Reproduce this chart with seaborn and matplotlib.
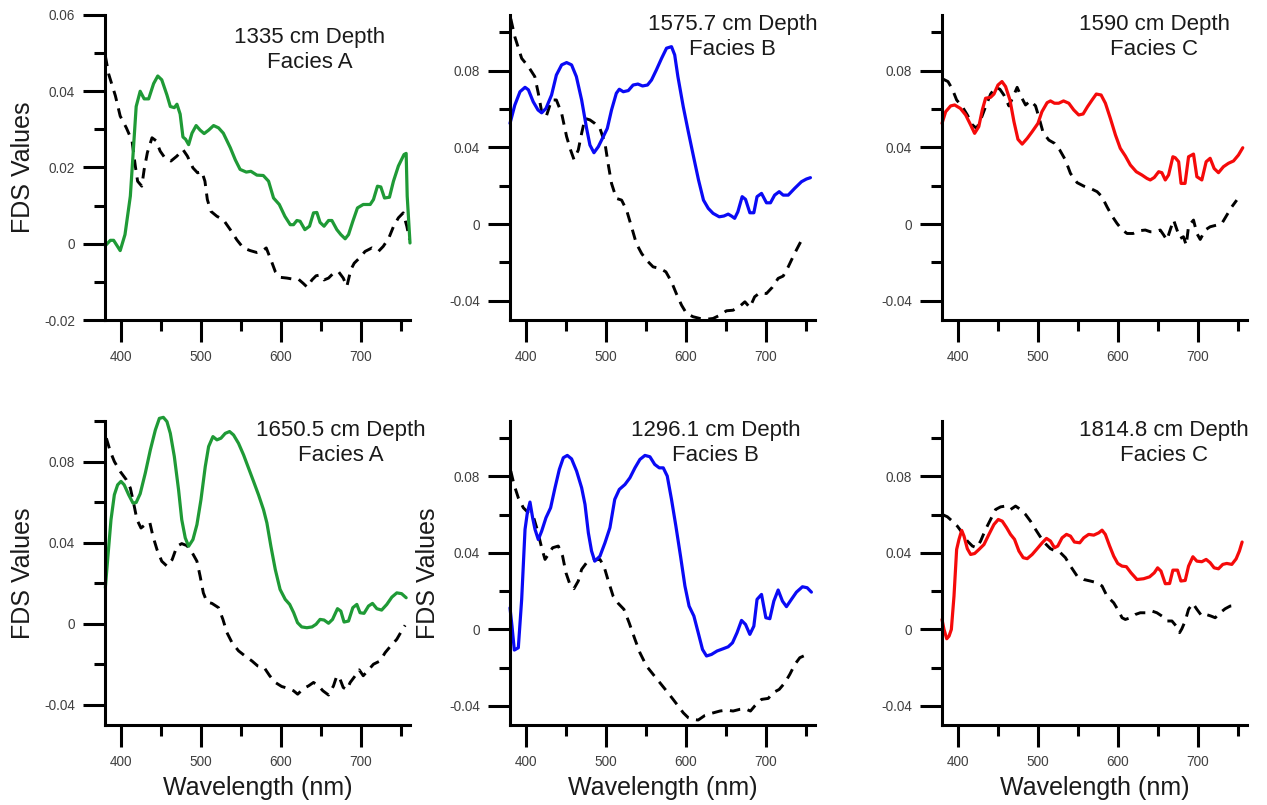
import matplotlib
matplotlib.use("Agg")
import matplotlib.pyplot as plt
from matplotlib.ticker import FixedLocator, FuncFormatter
import numpy as np
import seaborn as sns

sns.set_theme(style="white")
plt.rcParams["font.family"] = ["Liberation Sans", "DejaVu Sans"]

# ---------------- data ----------------
titles = ["1335 cm Depth\nFacies A", "1575.7 cm Depth\nFacies B", "1590 cm Depth\nFacies C",
          "1650.5 cm Depth\nFacies A", "1296.1 cm Depth\nFacies B", "1814.8 cm Depth\nFacies C"]

# Panel 1 (1335 cm, Facies A)
p1_wl = [380.4, 386.7, 390.8, 399, 405, 411.7, 419, 424, 429, 434.6, 440.8, 446, 451, 457.5, 461.7, 466.7, 470,
         474, 477.5, 480.8, 484.6, 488.8, 494, 499, 504, 509.6, 515.8, 522, 528, 536.7, 543, 549, 556.7, 562.5,
         570, 578, 584.6, 590.8, 598, 605, 611.7, 615.8, 620, 624, 630, 635.8, 640.8, 645, 649, 654, 659.6,
         663.8, 670, 675, 680.4, 684.6, 690, 695.8, 703, 711.7, 715.8, 720.8, 725, 729.6, 735.8, 740.8, 747,
         754, 756.7, 758, 761.5]
p1_val = [-0.0005, 0.0009, 0.0009, -0.0018, 0.0024, 0.0125, 0.036, 0.040, 0.038, 0.038, 0.042, 0.044, 0.043,
          0.039, 0.036, 0.0357, 0.0366, 0.034, 0.028, 0.0274, 0.026, 0.029, 0.031, 0.0298, 0.0289, 0.0298,
          0.031, 0.0304, 0.029, 0.0252, 0.022, 0.0195, 0.0188, 0.019, 0.018, 0.0179, 0.0164, 0.012, 0.0103,
          0.0072, 0.005, 0.005, 0.0061, 0.0059, 0.0037, 0.0046, 0.0081, 0.0082, 0.0056, 0.0046, 0.0061, 0.0061,
          0.0037, 0.0024, 0.0013, 0.0024, 0.0059, 0.0094, 0.0103, 0.0103, 0.0116, 0.0151, 0.0149, 0.012,
          0.0122, 0.0164, 0.0204, 0.0234, 0.0237, 0.0125, 0.0002]
p1_ref_wl = [380.4, 384.6, 393, 399, 406.7, 413.8, 417.9, 420.8, 426, 429, 433, 438.8, 444, 449, 455, 462.5, 470,
             477.5, 483, 490, 495.8, 501, 505, 508, 512.5, 520, 528, 536.7, 545, 553, 561.7, 570, 576, 581.7,
             587.5, 593, 599, 607.5, 615.8, 622, 628, 633, 638.8, 644, 649, 654, 659.6, 665.8, 672, 678, 682.5,
             687.5, 691.7, 698, 705.4, 713.8, 722, 728, 735, 741, 747, 753, 757.5, 761]
p1_ref_val = [0.0493, 0.0445, 0.0388, 0.0335, 0.0304, 0.027, 0.0204, 0.0164, 0.0151, 0.0195, 0.0239, 0.0278,
              0.027, 0.0243, 0.0225, 0.0217, 0.023, 0.0247, 0.023, 0.0199, 0.0186, 0.019, 0.0164, 0.0116, 0.0085,
              0.0072, 0.0063, 0.0037, 0.001, -0.0011, -0.0018, -0.0023, -0.002, -0.0011, -0.0042, -0.0073,
              -0.0088, -0.009, -0.0093, -0.0093, -0.0104, -0.0114, -0.0095, -0.0084, -0.0082, -0.0095, -0.009,
              -0.0077, -0.0073, -0.009, -0.0112, -0.0068, -0.0051, -0.0038, -0.002, -0.0011, -0.002, -0.0007,
              0.0015, 0.0046, 0.0068, 0.0081, 0.0046, 0.0011]

# Panel 2 (1575.7 cm, Facies B)
p2_wl = [380, 386, 392.5, 398.8, 403, 409, 415, 419.6, 425, 432, 438, 444.6, 450.8, 457, 463, 469.6, 475.8, 480,
         485, 490.4, 496.7, 501.7, 507, 513, 516.7, 521.7, 528, 534, 540, 545.8, 552, 557, 563, 569.6, 575.8,
         582, 586, 590, 596.7, 603, 609.6, 615.8, 622, 628, 634, 641.7, 647.5, 652.9, 657, 661, 665, 670.4,
         674.6, 680, 685, 689, 694.6, 700.8, 705.8, 711, 716.7, 721.7, 728, 736, 744.6, 750.8, 755.8]
p2_val = [0.0525, 0.062, 0.069, 0.0713, 0.070, 0.0638, 0.0595, 0.058, 0.0603, 0.0673, 0.0777, 0.083, 0.0842,
          0.083, 0.0769, 0.0647, 0.0499, 0.0412, 0.0372, 0.0403, 0.0456, 0.0499, 0.0595, 0.0682, 0.0703, 0.069,
          0.0696, 0.0725, 0.073, 0.072, 0.0725, 0.0751, 0.0803, 0.0864, 0.0917, 0.0925, 0.0882, 0.0769, 0.0612,
          0.0482, 0.0351, 0.023, 0.0125, 0.0082, 0.0056, 0.0038, 0.0042, 0.0052, 0.0042, 0.003, 0.0064, 0.0143,
          0.0129, 0.0059, 0.0059, 0.0143, 0.016, 0.0111, 0.0111, 0.0151, 0.0169, 0.0151, 0.0151, 0.0186, 0.0221,
          0.0235, 0.0242]
p2_ref_wl = [381, 386, 394.6, 403, 411, 415.4, 419.6, 425, 432, 438, 444.6, 450.8, 455.8, 460, 465.4, 469.6,
             473.8, 480, 486, 492.5, 498.8, 503, 507, 513, 519.6, 525.8, 532, 538, 544.6, 550.8, 559, 567.5, 575,
             582, 588, 594.6, 600.8, 609, 617.5, 626, 634, 642.5, 650.8, 659, 667.5, 673.8, 680, 686, 692.5,
             700.8, 708, 715.4, 721.7, 728, 736, 742.5, 746.7]
p2_ref_val = [0.107, 0.0977, 0.0864, 0.0821, 0.0769, 0.0682, 0.0586, 0.0557, 0.0647, 0.0647, 0.0577, 0.0456,
              0.0386, 0.0337, 0.0386, 0.0473, 0.0551, 0.0543, 0.0525, 0.0499, 0.0421, 0.0308, 0.0212, 0.0134,
              0.0125, 0.0073, -0.0014, -0.0101, -0.0153, -0.0188, -0.0223, -0.0231, -0.0249, -0.0301, -0.0362,
              -0.0423, -0.0466, -0.0483, -0.0492, -0.0496, -0.0492, -0.0475, -0.0452, -0.0449, -0.0428, -0.0405,
              -0.0435, -0.0379, -0.0358, -0.0362, -0.033, -0.0283, -0.0271, -0.0223, -0.0153, -0.0101, -0.007]

# Panel 3 (1590 cm, Facies C)
p3_wl = [380, 384.6, 390.8, 395.8, 403, 409.6, 415.8, 420.8, 426, 430.4, 434.5, 440.8, 445, 450, 455, 459.5, 465,
         470, 475, 480.3, 486.6, 492.8, 500, 505, 511.5, 515.7, 520.7, 526, 532, 538.6, 544.8, 551, 556.5, 562,
         567.7, 573, 579, 584.4, 590.6, 597, 603, 609.3, 615.6, 623, 630, 636.4, 640.5, 645.5, 651, 655, 659.3,
         663.4, 668.8, 671.7, 676, 679, 684, 688.4, 694.6, 698.8, 705, 710.4, 715.4, 720.4, 725.8, 732, 738.3,
         744.6, 750.8, 756.2]
p3_val = [0.0525, 0.0586, 0.0616, 0.0621, 0.0603, 0.0569, 0.0517, 0.0473, 0.0508, 0.0595, 0.0656, 0.0661,
          0.0678, 0.0725, 0.0743, 0.0717, 0.0647, 0.0534, 0.0442, 0.0417, 0.0447, 0.0482, 0.0525, 0.0586,
          0.0633, 0.0642, 0.063, 0.063, 0.0642, 0.063, 0.0595, 0.0569, 0.0574, 0.0612, 0.0647, 0.0678, 0.0673,
          0.063, 0.0551, 0.0464, 0.0395, 0.0355, 0.0308, 0.0273, 0.0256, 0.0238, 0.023, 0.0243, 0.0273, 0.0268,
          0.023, 0.0256, 0.0351, 0.0346, 0.0325, 0.0212, 0.0212, 0.0351, 0.0365, 0.0247, 0.023, 0.0325, 0.0343,
          0.029, 0.0268, 0.0299, 0.0317, 0.0329, 0.036, 0.0398]
p3_ref_wl = [381.7, 387.5, 393, 398.3, 405.4, 411.7, 418, 423.3, 428.3, 434.5, 440.8, 447, 452.4, 457.4, 463.7,
             469, 474, 479, 484.5, 490.7, 497, 501, 506.5, 513.6, 520.7, 527.3, 534.4, 540.7, 549, 557.3, 565.6,
             574, 580, 586.4, 592.7, 599, 605, 611.4, 619, 626, 634.3, 640.5, 646.8, 653, 657.3, 661.3, 665.6,
             669.7, 674, 678, 682, 685.5, 688.4, 694.6, 698.8, 703, 709.2, 715.4, 723.8, 730, 736.3, 742.5, 748.7]
p3_ref_val = [0.0755, 0.0743, 0.0703, 0.0647, 0.0612, 0.0569, 0.0517, 0.0499, 0.0543, 0.0612, 0.0678, 0.0713,
              0.0703, 0.0673, 0.0616, 0.0664, 0.0713, 0.0664, 0.0621, 0.0643, 0.0616, 0.056, 0.0477, 0.0438,
              0.0421, 0.0386, 0.0334, 0.0264, 0.0216, 0.0198, 0.0186, 0.0169, 0.0143, 0.009, 0.0042, 0.0003,
              -0.0028, -0.0049, -0.0049, -0.0035, -0.0031, -0.004, -0.004, -0.0031, -0.0057, -0.0083, -0.0028,
              0.0021, -0.0031, -0.0075, -0.0066, -0.011, -0.001, 0.0021, -0.0049, -0.008, -0.0031, -0.0014,
              -0.0005, 0.0003, 0.0047, 0.009, 0.0125]

# Panel 4 (1650.5 cm, Facies A)
p4_wl = [380.4, 383.3, 387.5, 391.7, 395.8, 400, 404, 409.6, 415, 419, 424, 430.4, 436.7, 443, 448, 453, 457.5,
         461.7, 466.7, 472, 476, 480.4, 484.6, 490, 495, 500, 505.4, 509.6, 515, 520, 525, 530.4, 535.8, 540.8,
         547, 553.3, 559.6, 565.8, 572, 578.3, 582.5, 587.5, 593, 599, 605.4, 611, 616, 620.8, 626, 632.5, 639,
         644, 649, 654, 659.6, 664.6, 670.8, 675, 679, 684.6, 690, 695, 699, 704, 709.6, 714.6, 720, 726, 732.5,
         738.8, 745, 751, 756.7]
p4_val = [0.0177, 0.0316, 0.0513, 0.0636, 0.0685, 0.0702, 0.0685, 0.0636, 0.0595, 0.0598, 0.0641, 0.0743,
          0.0857, 0.0956, 0.1013, 0.1018, 0.0997, 0.0939, 0.0825, 0.0661, 0.0513, 0.0423, 0.0382, 0.0415,
          0.0489, 0.0611, 0.0775, 0.0874, 0.0923, 0.0907, 0.0915, 0.0939, 0.0948, 0.0931, 0.089, 0.0833, 0.0767,
          0.0702, 0.0636, 0.0562, 0.0497, 0.0382, 0.0267, 0.0169, 0.012, 0.0095, 0.0054, 0.0005, -0.0016,
          -0.002, -0.0016, -0.0003, 0.0021, 0.0018, 0.0002, 0.0021, 0.0074, 0.0062, 0.0008, 0.0013, 0.0079,
          0.0095, 0.0054, 0.0051, 0.0087, 0.010, 0.0074, 0.0067, 0.0095, 0.0131, 0.0152, 0.0148, 0.0128]
p4_ref_wl = [381.7, 386.7, 391.7, 399, 406.7, 411.7, 415.8, 420, 425, 430.4, 436, 440, 445, 451, 457.5, 464, 470,
             476, 482.5, 488.8, 495, 499, 503, 507.5, 513.8, 522, 527.5, 532.5, 538.8, 547, 555, 563.8, 570.8,
             579, 586, 593, 601, 609.6, 615.8, 621, 628.3, 634.6, 640.8, 647, 652.5, 659.6, 665.8, 670, 674, 678,
             682.5, 686.7, 693, 698, 703, 709.6, 715.8, 724, 730.4, 736.7, 745, 751, 755.4]
p4_ref_val = [0.0915, 0.0849, 0.080, 0.0751, 0.071, 0.0669, 0.0595, 0.0513, 0.0472, 0.0489, 0.050, 0.0431,
              0.0366, 0.0308, 0.0284, 0.0316, 0.0382, 0.0395, 0.0385, 0.0352, 0.0308, 0.0234, 0.0152, 0.0107,
              0.010, 0.0079, 0.0021, -0.0044, -0.0093, -0.0134, -0.0159, -0.0184, -0.0208, -0.0216, -0.0257,
              -0.029, -0.031, -0.032, -0.0331, -0.0348, -0.032, -0.0307, -0.029, -0.0307, -0.0331, -0.0352,
              -0.0307, -0.0257, -0.0274, -0.0315, -0.0326, -0.029, -0.0257, -0.0228, -0.0257, -0.0228, -0.020,
              -0.0184, -0.0143, -0.0113, -0.0077, -0.0036, -0.0008]

# Panel 5 (1296.1 cm, Facies B)
p5_wl = [380, 382.5, 385.4, 390.4, 394.6, 398.8, 401.7, 405, 408.3, 411.3, 415.4, 419.6, 425, 430.8, 436.3,
         441.7, 446.7, 451.7, 457, 463.3, 469.6, 473.8, 478, 482, 486, 492.5, 498.8, 505, 511, 516.7, 523.8, 530,
         536.3, 542.5, 548.8, 555, 561, 566.7, 571.7, 576.7, 582, 587.5, 593.3, 598.8, 604, 610, 615.4, 620.8,
         625.8, 632, 639, 646.7, 652.9, 658.3, 664, 669.6, 674.6, 680, 685, 689, 694.6, 700, 705, 710, 715.4,
         720.8, 725.8, 732, 738.3, 745.8, 751.7, 757]
p5_val = [0.0113, 0.0017, -0.0108, -0.0096, 0.0157, 0.0523, 0.061, 0.0666, 0.0584, 0.0523, 0.047, 0.0514, 0.0584,
          0.0636, 0.0741, 0.0837, 0.0898, 0.091, 0.0892, 0.0828, 0.0741, 0.0654, 0.0505, 0.041, 0.0357, 0.0383,
          0.0453, 0.0532, 0.068, 0.0732, 0.0758, 0.0793, 0.0845, 0.0889, 0.091, 0.0903, 0.0863, 0.0845, 0.0845,
          0.0802, 0.068, 0.054, 0.0383, 0.0227, 0.0122, 0.007, -0.0017, -0.0105, -0.0139, -0.0131, -0.0113,
          -0.0101, -0.0091, -0.007, -0.0017, 0.0047, 0.0026, -0.0026, 0.0017, 0.0157, 0.0183, 0.0061, 0.0056,
          0.0148, 0.0206, 0.0148, 0.0119, 0.0157, 0.0195, 0.0223, 0.0218, 0.0195]
p5_ref_wl = [381, 385, 390.4, 396.7, 403, 409, 414, 419.6, 423.8, 428, 433.3, 440.4, 445.8, 450, 455, 460, 465.4,
             469.6, 475.8, 484, 492.5, 497.5, 503, 509, 515.4, 522.5, 529, 536.3, 542.5, 550.8, 559, 567.5, 575.8,
             584, 590.4, 596.7, 603, 609, 615.4, 623.8, 632, 642.5, 650.8, 659, 667.5, 673.8, 680.8, 686, 694.6,
             703, 709, 716.7, 723.8, 730, 736.3, 742.5, 748.8]
p5_ref_val = [0.0828, 0.0758, 0.0688, 0.0636, 0.061, 0.0593, 0.0523, 0.0427, 0.0366, 0.0392, 0.0427, 0.0436,
              0.0383, 0.0296, 0.0235, 0.0213, 0.0253, 0.0314, 0.0349, 0.0363, 0.0366, 0.0331, 0.0253, 0.0174,
              0.0136, 0.0105, 0.0035, -0.0052, -0.0122, -0.0192, -0.0235, -0.0279, -0.0322, -0.0366, -0.0401,
              -0.0436, -0.0462, -0.0471, -0.0474, -0.045, -0.0439, -0.0427, -0.0422, -0.0427, -0.0418, -0.0415,
              -0.0427, -0.0401, -0.0366, -0.0361, -0.0331, -0.0314, -0.0279, -0.0235, -0.0183, -0.0148, -0.0136]

# Panel 6 (1814.8 cm, Facies C)
p6_wl = [380, 382.5, 385.9, 388.8, 391.7, 395, 398.3, 401.2, 404.6, 407.5, 411.7, 415.8, 420.8, 426.2, 432.5,
         438.7, 445, 450.4, 455.4, 460.8, 465.7, 470.7, 476.2, 481.6, 486.6, 492.8, 499, 505.3, 510.7, 515.7,
         520.7, 524.8, 530.2, 535.7, 540.7, 545.6, 552.3, 557.3, 563.5, 569.8, 576, 580.2, 584.3, 589.7, 594.8,
         599.8, 605.2, 610.6, 616.4, 623.9, 632.2, 639.7, 645.5, 649.7, 653.9, 659.3, 664.7, 668.8, 674.6, 678.8,
         684.2, 688.4, 693.8, 698.8, 705, 710.4, 715.4, 720.4, 725.8, 731.2, 736.2, 742.5, 747.9, 752, 755.4]
p6_val = [0.0052, 0.0, -0.0049, -0.0035, 0.0, 0.0174, 0.0418, 0.047, 0.0518, 0.0488, 0.0422, 0.0392, 0.0397,
          0.0418, 0.0444, 0.0497, 0.0549, 0.0575, 0.0566, 0.0532, 0.0497, 0.0471, 0.041, 0.0375, 0.037, 0.0392,
          0.0422, 0.0453, 0.0476, 0.0462, 0.0427, 0.0436, 0.0479, 0.0497, 0.0488, 0.0457, 0.0453, 0.0479, 0.0497,
          0.0493, 0.0505, 0.0519, 0.0497, 0.0436, 0.0383, 0.0345, 0.0331, 0.0328, 0.0296, 0.0261, 0.0265, 0.0275,
          0.0296, 0.0322, 0.0305, 0.0239, 0.024, 0.031, 0.031, 0.0253, 0.0256, 0.0331, 0.038, 0.0357, 0.0354,
          0.0366, 0.0349, 0.0322, 0.0317, 0.034, 0.0345, 0.034, 0.0369, 0.041, 0.0457]
p6_ref_wl = [380.4, 386.7, 392.9, 399.2, 405.4, 411.7, 418, 423.3, 428.3, 434.5, 440.8, 447, 453.3, 459.5, 465.7,
             472, 478.2, 484.5, 490.7, 497, 502.4, 508.2, 515.7, 521.9, 528.2, 534.4, 540.7, 549, 557.3, 565.6,
             574, 580.2, 586.4, 594.8, 601, 605.2, 609.3, 615.6, 621.8, 628, 636.4, 642.6, 648.8, 655, 661.3,
             667.6, 673, 677.2, 680, 684.2, 688.4, 693.8, 698.8, 705, 710.4, 716.3, 721.7, 727.9, 734.2, 740.4,
             746.7]
p6_ref_val = [0.0601, 0.0589, 0.0566, 0.054, 0.0505, 0.0462, 0.0436, 0.0427, 0.0462, 0.0523, 0.0575, 0.0627,
              0.0641, 0.0645, 0.0627, 0.0645, 0.0627, 0.0601, 0.0566, 0.0523, 0.0488, 0.0453, 0.0422, 0.041,
              0.0401, 0.0375, 0.0331, 0.0279, 0.0261, 0.0253, 0.0244, 0.0227, 0.0174, 0.0139, 0.0096, 0.0061,
              0.0052, 0.0061, 0.0078, 0.0087, 0.0087, 0.0096, 0.0087, 0.007, 0.0044, 0.0044, 0.0017, -0.0017,
              0.0003, 0.0044, 0.0105, 0.0136, 0.0105, 0.007, 0.0078, 0.007, 0.0061, 0.0087, 0.0108, 0.0122, 0.0125]

sample_wl = [p1_wl, p2_wl, p3_wl, p4_wl, p5_wl, p6_wl]
sample_val = [p1_val, p2_val, p3_val, p4_val, p5_val, p6_val]
ref_wl = [p1_ref_wl, p2_ref_wl, p3_ref_wl, p4_ref_wl, p5_ref_wl, p6_ref_wl]
ref_val = [p1_ref_val, p2_ref_val, p3_ref_val, p4_ref_val, p5_ref_val, p6_ref_val]

x_major = [400, 500, 600, 700]
x_minor = [450, 550, 650, 750]
y_major_top_left = [-0.02, 0.0, 0.02, 0.04, 0.06]
y_minor_top_left = [-0.01, 0.01, 0.03, 0.05]
y_major_other = [-0.04, 0.0, 0.04, 0.08]
y_minor_other = [-0.02, 0.02, 0.06, 0.10]

# ---------------- layout / style ----------------
W, H = 1267, 805
colors = ["#1f9a36", "#0a0af5", "#f50a0a", "#1f9a36", "#0a0af5", "#f50a0a"]
col_left = [105, 510, 942]
row_span = [(15, 320), (421, 725)]
ylims = [(-0.02, 0.06), (-0.05, 0.109), (-0.05, 0.109),
         (-0.05, 0.10), (-0.05, 0.109), (-0.05, 0.109)]
title_pos = [(0.672, 0.884), (0.730, 0.928), (0.696, 0.928),
             (0.774, 0.928), (0.675, 0.928), (0.728, 0.928)]
ylabel_panels = [0, 3, 4]
xlabel_panels = [3, 4, 5]

fig = plt.figure(figsize=(W / 100, H / 100), dpi=100)
fig.patch.set_facecolor("white")


def fmt(v, pos):
    if abs(v) < 1e-12:
        return "0"
    return f"{v:g}"


for i in range(6):
    r, c = divmod(i, 3)
    top, bot = row_span[r]
    ax = fig.add_axes([col_left[c] / W, 1 - bot / H, 305 / W, (bot - top) / H])
    ax.set_facecolor("white")
    sns.lineplot(x=ref_wl[i], y=ref_val[i], ax=ax, color="black", linewidth=2.1,
                 linestyle=(0, (3.6, 2.6)), estimator=None, sort=False, clip_on=False)
    sns.lineplot(x=sample_wl[i], y=sample_val[i], ax=ax, color=colors[i], linewidth=2.3,
                 estimator=None, sort=False, clip_on=False)
    ax.set_xlim(380, 761.5)
    ax.set_ylim(*ylims[i])
    ax.xaxis.set_major_locator(FixedLocator(x_major))
    ax.xaxis.set_minor_locator(FixedLocator(x_minor))
    if i == 0:
        ax.yaxis.set_major_locator(FixedLocator(y_major_top_left))
        ax.yaxis.set_minor_locator(FixedLocator(y_minor_top_left))
    else:
        ax.yaxis.set_major_locator(FixedLocator(y_major_other))
        ax.yaxis.set_minor_locator(FixedLocator(y_minor_other))
    ax.xaxis.set_major_formatter(FuncFormatter(fmt))
    ax.yaxis.set_major_formatter(FuncFormatter(fmt))
    for s in ["top", "right"]:
        ax.spines[s].set_visible(False)
    for s in ["left", "bottom"]:
        ax.spines[s].set_visible(True)
        ax.spines[s].set_linewidth(2.2)
        ax.spines[s].set_color("black")
    ax.tick_params(which="major", direction="out", length=15.6, width=2.2, color="black",
                   pad=6, labelsize=9.8, labelcolor="#404040", bottom=True, left=True)
    ax.tick_params(which="minor", direction="out", length=8.0, width=2.2, color="black",
                   bottom=True, left=True)
    ax.grid(False)
    ax.set_xlabel("")
    ax.set_ylabel("")
    ax.text(title_pos[i][0], title_pos[i][1], titles[i], transform=ax.transAxes,
            ha="center", va="center", fontsize=16, color="#1a1a1a", linespacing=1.25,
            multialignment="center")
    if i in ylabel_panels:
        ax.set_ylabel("FDS Values", fontsize=18, color="#1a1a1a")
        ax.yaxis.set_label_coords(-0.27, 0.5)
        ax.yaxis.label.set_va("center")
    if i in xlabel_panels:
        ax.set_xlabel("Wavelength (nm)", fontsize=18, color="#1a1a1a")
        ax.xaxis.set_label_coords(0.5, -0.207)
        ax.xaxis.label.set_va("center")

fig.savefig("out.png", dpi=100, facecolor="white")
